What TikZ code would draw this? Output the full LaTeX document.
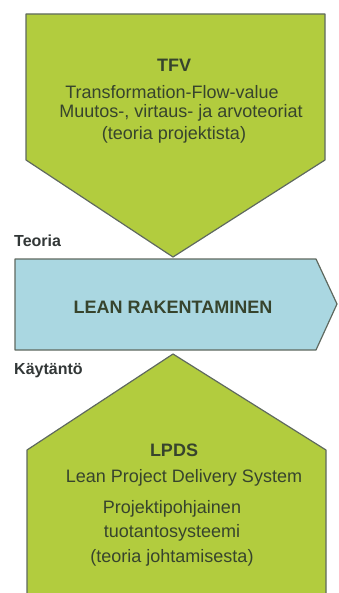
\documentclass[tikz,border=0pt]{standalone}
\usepackage{fontspec}
\setmainfont{Liberation Sans}
\definecolor{leafgreen}{RGB}{178,204,62}
\definecolor{paleblue}{RGB}{170,215,225}
\definecolor{edgegrey}{RGB}{95,105,95}
\definecolor{inkgreen}{RGB}{55,68,45}
\definecolor{inkgrey}{RGB}{50,55,55}

\begin{document}
\begin{tikzpicture}[x=1pt, y=-1pt,
    shapeline/.style={draw=edgegrey, line width=1.2pt, line join=round},
    boxtext/.style={text=inkgreen, font=\fontsize{18}{21.5}\selectfont, inner sep=0pt, align=center},
    sidetext/.style={text=inkgrey, font=\fontsize{16}{19}\selectfont\bfseries, anchor=west, inner sep=0pt}]
        \useasboundingbox (0,0) rectangle (338,593);
        \clip (0,0) rectangle (338,593);
        % theory pentagon, process arrow, practice pentagon
        \filldraw [shapeline, fill=leafgreen] (26,14) -- (325,14) -- (325,160) -- (173,257) -- (26,160) -- cycle;
        \filldraw [shapeline, fill=paleblue] (15,259) -- (316,259) -- (337,304) -- (316,350) -- (15,350) -- cycle;
        \filldraw [shapeline, fill=leafgreen] (173,354) -- (326,450) -- (326,600) -- (27,600) -- (27,450) -- cycle;
        \node [boxtext, font=\fontsize{18}{21.5}\selectfont\bfseries] (tfv) at (174,65) {TFV};
        \node [boxtext] (tfvname) at (172,92) {Transformation-Flow-value};
        \node [boxtext] (tfvfi) at (181,113) {Muutos-, virtaus- ja arvoteoriat};
        \node [boxtext] (tfvnote) at (174,135) {(teoria projektista)};
        \node [boxtext, font=\fontsize{18}{21.5}\selectfont\bfseries] (lean) at (173,307) {LEAN RAKENTAMINEN};
        \node [boxtext, font=\fontsize{18}{21.5}\selectfont\bfseries] (lpds) at (174,450) {LPDS};
        \node [boxtext] (lpdsname) at (184,478) {Lean Project Delivery System};
        \node [boxtext, font=\fontsize{18}{24.5}\selectfont] (lpdsfi) at (172,533) {Projektipohjainen\\tuotantosysteemi\\(teoria johtamisesta)};
        \node [sidetext] (teoria) at (14,241) {Teoria};
        \node [sidetext] (kaytanto) at (14,371) {Käytäntö};
    \end{tikzpicture}
\end{document}
